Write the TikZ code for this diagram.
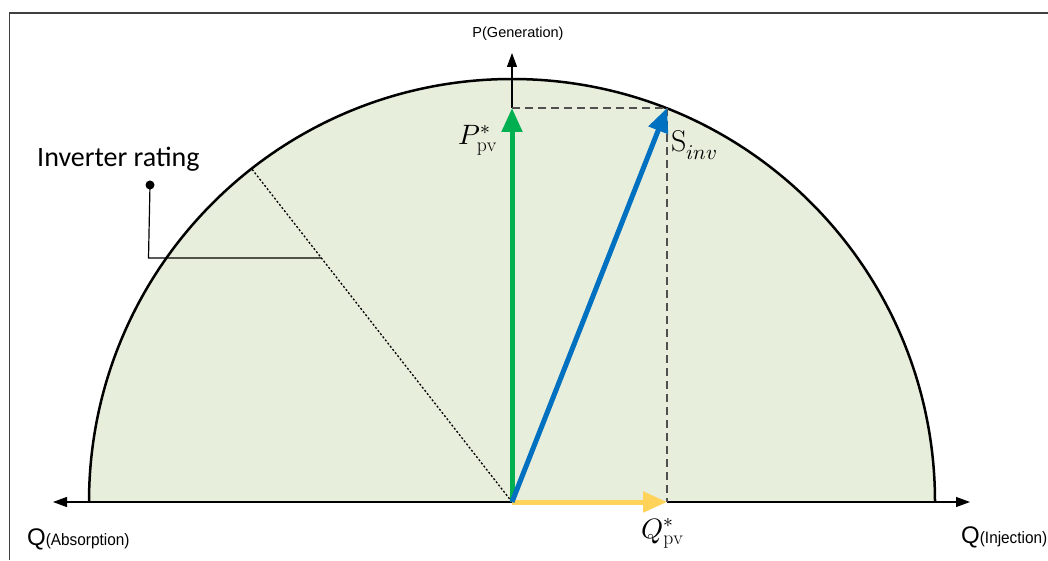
\documentclass[tikz,border=0pt]{standalone}
\usepackage{fontspec}
\setmainfont{Liberation Sans}
\newfontfamily\calfont{Carlito}
\usepackage{unicode-math}
\setmathfont{Latin Modern Math}
\setmathrm{Latin Modern Roman}
\usetikzlibrary{arrows.meta}
\definecolor{regfill}{RGB}{232,238,220}
\definecolor{pgreen}{RGB}{0,176,80}
\definecolor{sblue}{RGB}{0,112,192}
\definecolor{qyellow}{RGB}{255,210,90}
\definecolor{dashgray}{RGB}{80,80,80}
\tikzset{
  axisline/.style={line width=1.2pt,-{Triangle[length=14pt,width=10pt]}},
  vecarrow/.style={line width=5pt,-{Triangle[length=24pt,width=20pt]}},
  projline/.style={dashgray,line width=1.6pt,dash pattern=on 8pt off 5pt},
  radline/.style={line width=1.3pt,dash pattern=on 2pt off 2pt},
  lbl/.style={inner sep=0pt},
  mathlbl/.style={inner sep=0pt,font=\fontsize{28}{30}\selectfont}
}
\begin{document}
\begin{tikzpicture}[x=1pt,y=1pt]
\useasboundingbox (0,0) rectangle (1048,560);
% frame (left and top edges visible)
\draw[line width=1.5pt,black!75] (9.5,0) -- (9.5,547) -- (1048,547);
% named points
\coordinate (O) at (512,58);
\coordinate (L) at (89,58);
\coordinate (R) at (935,58);
\coordinate (Ltip) at (53,58);
\coordinate (Rtip) at (970,58);
\coordinate (Paxis) at (512,507);
\coordinate (Pt) at (512,452);
\coordinate (St) at (667,452);
\coordinate (Qt) at (667,58);
\coordinate (Rim) at (251.6,391.3);
\coordinate (Cdot) at (150,375);
\coordinate (Ccorner) at (148.5,302);
\coordinate (Cend) at (321.4,302);
% capability region
\fill[regfill] (L) arc (180:0:423) -- cycle;
% axes
\draw[axisline] (L) -- (Ltip);
\draw[axisline] (R) -- (Rtip);
\draw[axisline] (Pt) -- (Paxis);
% boundary
\draw[line width=2.5pt] (L) arc (180:0:423);
\draw[line width=2.5pt] (L) -- (O);
\draw[line width=2.5pt] (Qt) -- (R);
% projections
\draw[projline] (Pt) -- (St);
\draw[projline] (St) -- (Qt);
% rating radius and callout
\draw[radline] (O) -- (Rim);
\draw[line width=1.2pt] (Cdot) -- (Ccorner) -- (Cend);
\fill (Cdot) circle (4.5pt);
% vectors
\draw[vecarrow,pgreen] (O) -- (Pt);
\draw[vecarrow,qyellow] (O) -- (Qt);
\draw[vecarrow,sblue] (O) -- (St);
% labels
\node[lbl,anchor=base,font=\fontsize{14.5}{16}\selectfont] (plab) at (518,522) {P(Generation)};
\node[lbl,anchor=base west,font=\calfont\fontsize{28}{30}\selectfont] (irlab) at (37,393) {Inverter rating};
\node[mathlbl,anchor=base east] (pvlab) at (497,415) {$P^{*}_{\mathrm{pv}}$};
\node[mathlbl,anchor=base west,font=\fontsize{30}{32}\selectfont] (slab) at (671,408) {$\mathrm{S}_{inv}$};
\node[mathlbl,anchor=base west] (qlab) at (641,22) {$Q^{*}_{\mathrm{pv}}$};
\node[lbl,anchor=base west] (qalab) at (27,15) {{\fontsize{24}{26}\selectfont Q}\scalebox{0.93}[1]{\fontsize{16.5}{18}\selectfont (Absorption)}};
\node[lbl,anchor=base west] (qilab) at (961,17) {{\fontsize{24}{26}\selectfont Q}\scalebox{0.93}[1]{\fontsize{16.5}{18}\selectfont (Injection)}};
\end{tikzpicture}
\end{document}
